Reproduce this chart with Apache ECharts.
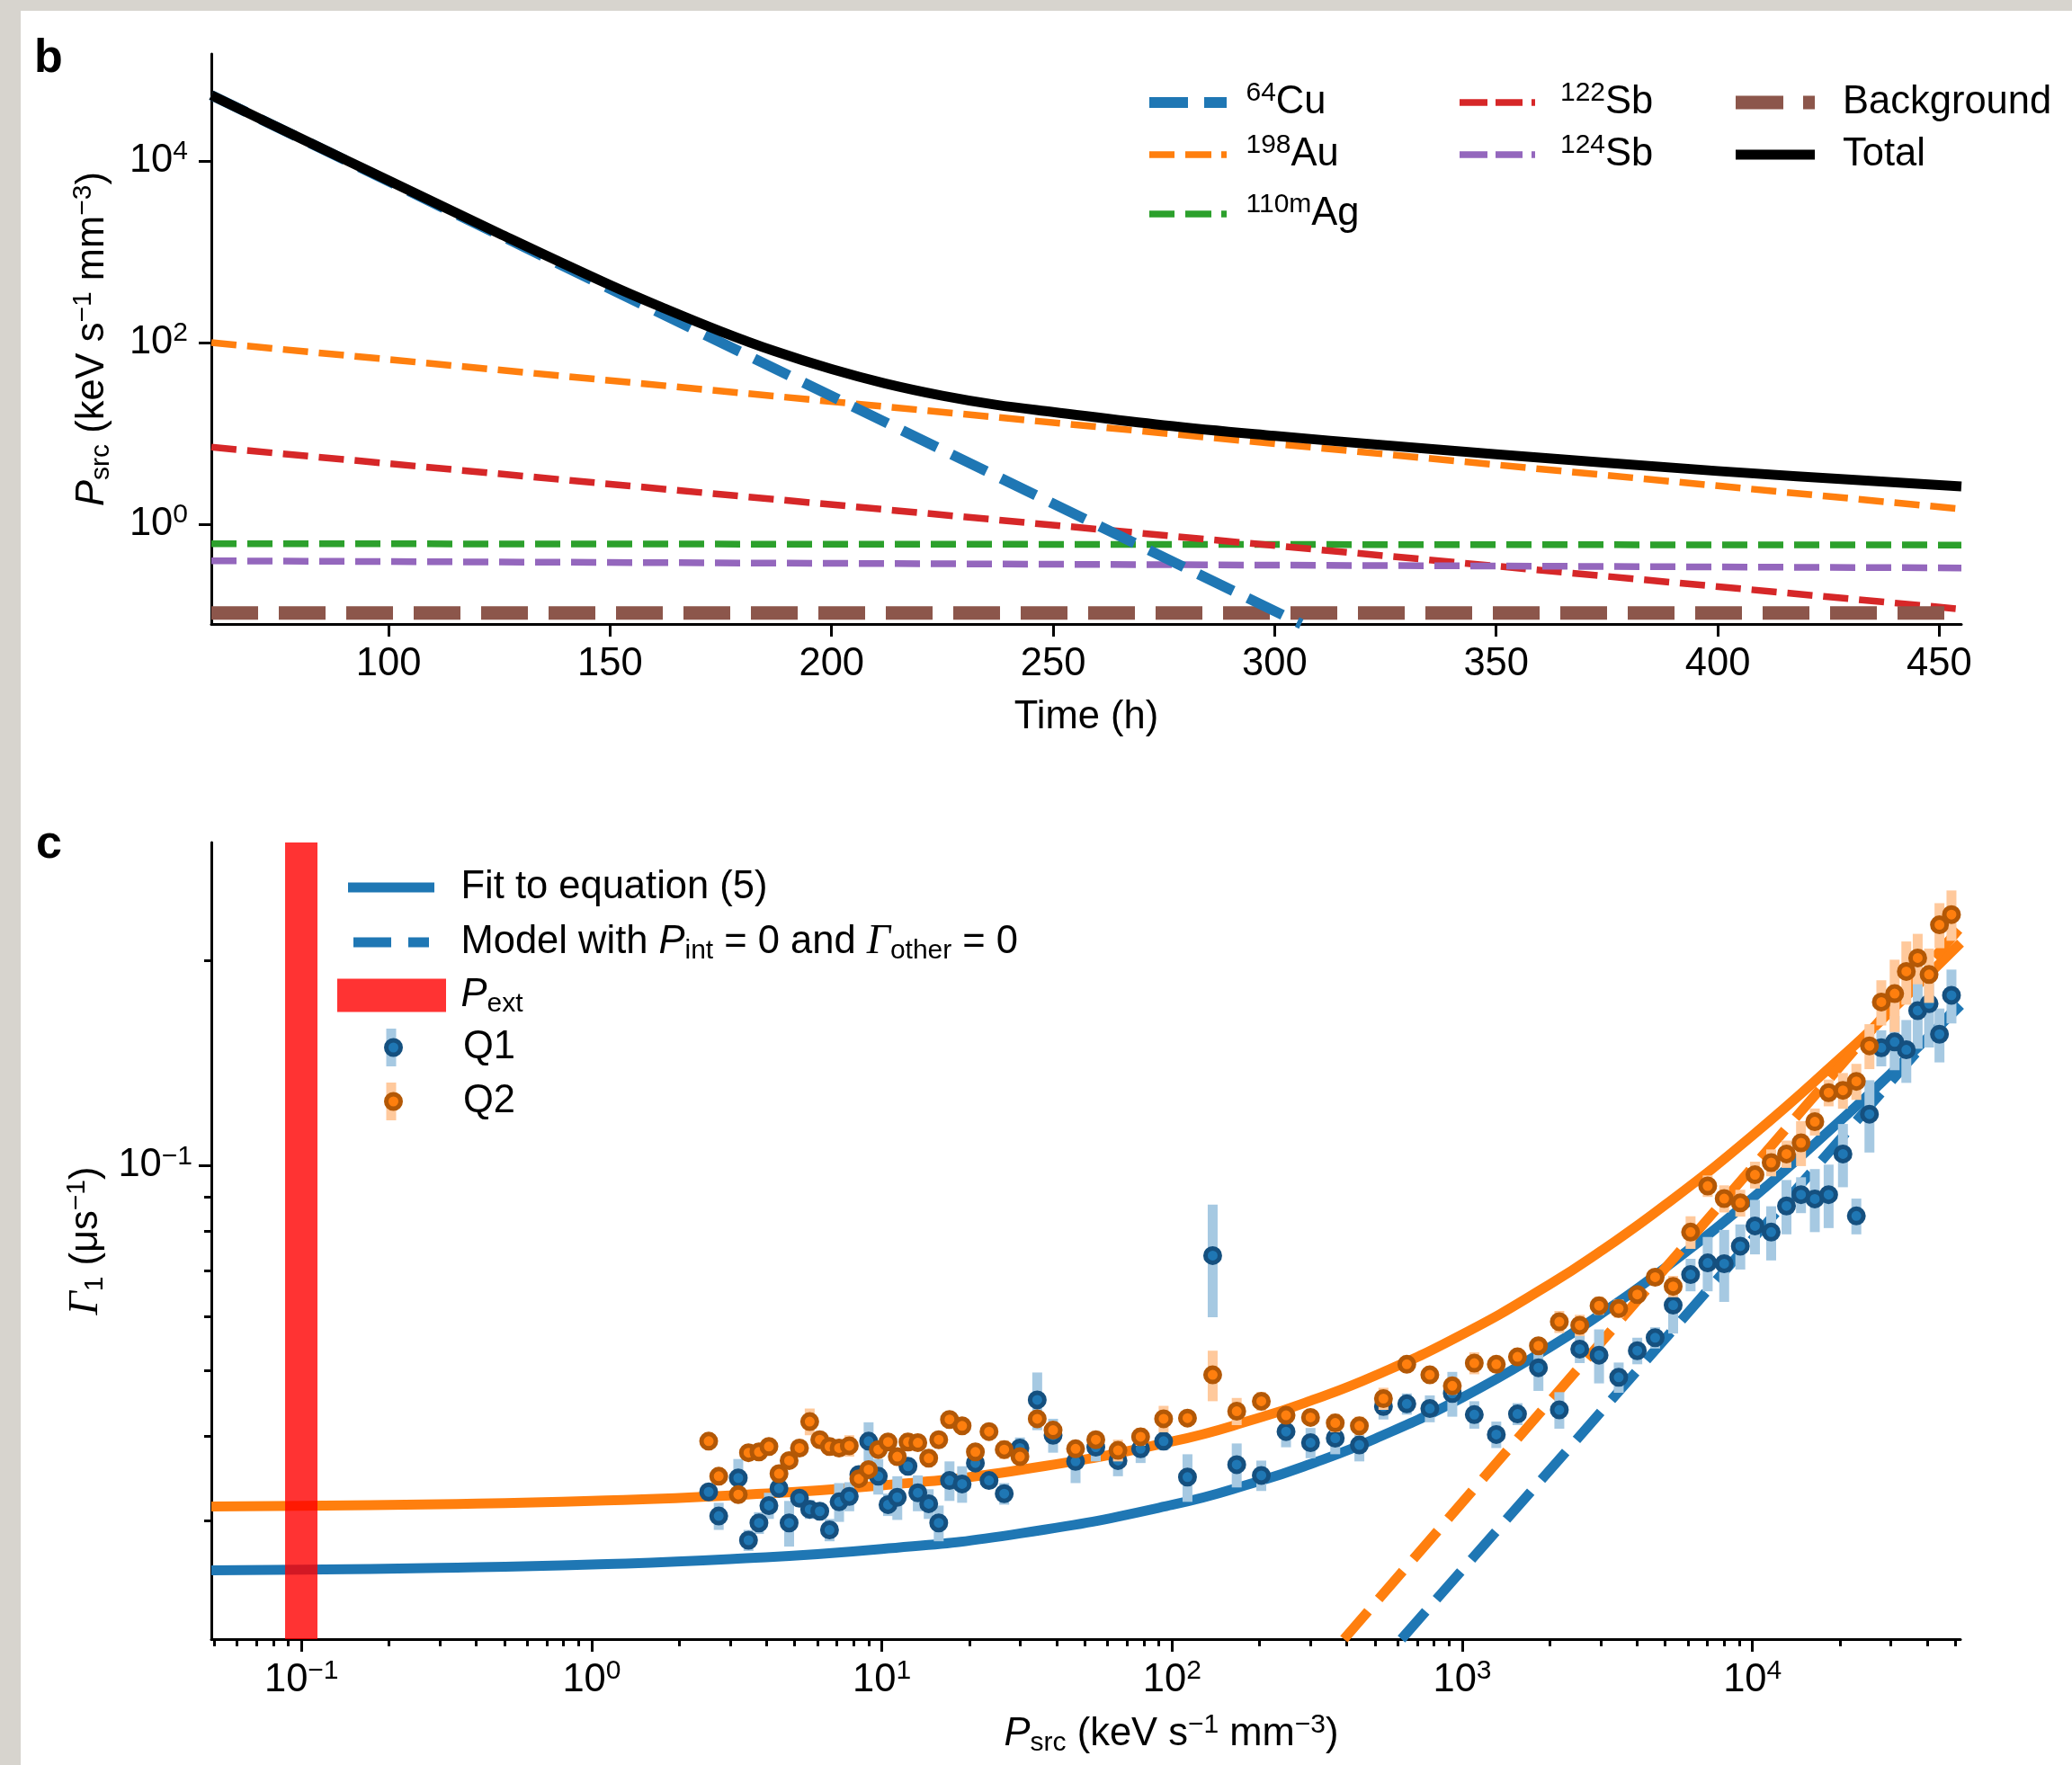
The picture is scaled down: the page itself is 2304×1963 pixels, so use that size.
<!DOCTYPE html>
<html>
<head>
<meta charset="utf-8">
<title>Source power density and relaxation rate</title>
<script src="https://cdn.jsdelivr.net/npm/echarts@6.0.0/dist/echarts.min.js"></script>
<style>
  html, body { margin: 0; padding: 0; width: 2304px; height: 1963px; overflow: hidden; background: #d7d4ce; }
  #chart { position: absolute; left: 23px; top: 12px; width: 2281px; height: 1951px; background: #ffffff; }
</style>
</head>
<body>
<div id="chart"></div>
<script>
// ---------------- panel b: source power density of each isotope vs time ----------------
const decayTimes = [60, 455];           // h, start and end of the straight (exponential) decays
const au198   = [100, 1.47];            // keV s^-1 mm^-3
const ag110m  = [0.61, 0.59];
const sb122   = [7.05, 0.116];
const sb124   = [0.395, 0.33];
const background = [0.105, 0.105];
const cu64Times = [60, 306];
const cu64      = [53000, 0.0796];
const totalTimes = [60, 80, 100, 125, 150, 162, 175, 187, 200, 212, 225, 237, 250, 275, 300, 325, 350, 400, 455];
const total      = [53000, 17900, 6100, 1590, 430, 241, 133, 81, 51, 35.6, 26, 20.7, 17.2, 12.3, 9.4, 7.4, 5.9, 3.85, 2.6];
const timeTicks  = [100, 150, 200, 250, 300, 350, 400, 450];
const powerExponents = [0, 2, 4];

// ---------------- panel c: relaxation rate of Q1 and Q2 vs source power density ----------------
const pSrc = [2.53, 2.74, 3.20, 3.47, 3.77, 4.08, 4.42, 4.79, 5.20, 5.64, 6.11, 6.60, 7.12, 7.72, 8.33,
  9.00, 9.72, 10.5, 11.3, 12.3, 13.3, 14.5, 15.7, 17.1, 18.9, 21.0, 23.4, 26.4, 29.9, 34.3,
  38.9, 46.5, 54.6, 65.1, 77.9, 93.5, 113, 138, 167, 203, 247, 300, 365, 442, 535,
  644, 773, 924, 1100, 1310, 1550, 1830, 2160, 2540, 2960, 3460, 4010, 4620, 5330, 6120, 7010, 7990,
  9080, 10200, 11600, 13100, 14700, 16400, 18300, 20500, 22800, 25300, 27800, 30900, 33900, 37100,
  40600, 44100, 48500];
const gammaQ1 = [0.0331, 0.0305, 0.0347, 0.0281, 0.0298, 0.0316, 0.0335, 0.0298, 0.0324, 0.0312, 0.0310,
  0.0291, 0.0320, 0.0326, 0.0351, 0.0393, 0.0349, 0.0317, 0.0325, 0.0361, 0.0330, 0.0318, 0.0298, 0.0344,
  0.0340, 0.0365, 0.0344, 0.0329, 0.0384, 0.0452,
  0.0401, 0.0367, 0.0385, 0.0368, 0.0383, 0.0393, 0.0348, 0.0737, 0.0363, 0.0350, 0.0406, 0.0391, 0.0397,
  0.0388, 0.0442,
  0.0446, 0.0439, 0.0462, 0.0430, 0.0402, 0.0431, 0.0504, 0.0437, 0.0537, 0.0526, 0.0488, 0.0534, 0.0558,
  0.0623, 0.0691, 0.0719, 0.0717, 0.0761, 0.0815, 0.0798, 0.0872, 0.0906, 0.0893, 0.0906, 0.104, 0.0843,
  0.119, 0.149, 0.152, 0.148, 0.169, 0.173, 0.156, 0.178];
const errQ1 = [0.0008, 0.0014, 0.0023, 0.0010, 0.0011, 0.0014, 0.0008, 0.0023, 0.0008, 0.0010, 0.0008,
  0.0011, 0.0021, 0.0016, 0.0009, 0.0026, 0.0021, 0.0012, 0.0024, 0.0009, 0.0020, 0.0016, 0.0018, 0.0023,
  0.0021, 0.0009, 0.0008, 0.0012, 0.0014, 0.0044,
  0.0023, 0.0026, 0.0018, 0.0019, 0.0018, 0.0012, 0.0028, 0.0139, 0.0027, 0.0018, 0.0021, 0.0020, 0.0021,
  0.0021, 0.0019,
  0.0016, 0.0020, 0.0035, 0.0020, 0.0018, 0.0016, 0.0038, 0.0027, 0.0025, 0.0048, 0.0025, 0.0024, 0.0020,
  0.0057, 0.0038, 0.0066, 0.0087, 0.0058, 0.0075, 0.0073, 0.0080, 0.0055, 0.0095, 0.0097, 0.0111, 0.0051,
  0.0145, 0.0091, 0.0139, 0.0157, 0.0205, 0.0238, 0.0142, 0.0162];
const gammaQ2 = [0.0393, 0.0349, 0.0328, 0.0378, 0.0379, 0.0386, 0.0352, 0.0368, 0.0384, 0.0420, 0.0395,
  0.0386, 0.0384, 0.0387, 0.0346, 0.0357, 0.0382, 0.0392, 0.0373, 0.0392, 0.0391, 0.0371, 0.0395, 0.0423,
  0.0414, 0.0379, 0.0406, 0.0382, 0.0373, 0.0424,
  0.0408, 0.0383, 0.0395, 0.0381, 0.0399, 0.0424, 0.0425, 0.0492, 0.0435, 0.0450, 0.0429, 0.0426, 0.0418,
  0.0414, 0.0454,
  0.0510, 0.0492, 0.0474, 0.0512, 0.0510, 0.0523, 0.0543, 0.0589, 0.0582, 0.0622, 0.0616, 0.0646, 0.0685,
  0.0664, 0.0798, 0.0933, 0.0894, 0.0881, 0.0969, 0.101, 0.104, 0.108, 0.116, 0.128, 0.129, 0.133,
  0.150, 0.174, 0.179, 0.193, 0.202, 0.191, 0.226, 0.234];
const errQ2 = [0.0008, 0.0009, 0.0008, 0.0007, 0.0007, 0.0007, 0.0006, 0.0007, 0.0007, 0.0019, 0.0007,
  0.0007, 0.0007, 0.0014, 0.0006, 0.0007, 0.0007, 0.0007, 0.0007, 0.0012, 0.0007, 0.0007, 0.0007, 0.0008,
  0.0008, 0.0007, 0.0007, 0.0012, 0.0007, 0.0008,
  0.0007, 0.0007, 0.0007, 0.0014, 0.0012, 0.0019, 0.0008, 0.0042, 0.0020, 0.0014, 0.0008, 0.0008, 0.0013,
  0.0013, 0.0017,
  0.0009, 0.0009, 0.0014, 0.0019, 0.0009, 0.0010, 0.0010, 0.0022, 0.0021, 0.0019, 0.0019, 0.0016, 0.0017,
  0.0024, 0.0044, 0.0034, 0.0041, 0.0040, 0.0044, 0.0046, 0.0048, 0.0082, 0.0053, 0.0058, 0.0078, 0.0081,
  0.0114, 0.0133, 0.0218, 0.0206, 0.0172, 0.0175, 0.0172, 0.0199];
const fitP  = [0.0489, 0.1, 0.3, 1, 3, 10, 30, 100, 200, 300, 500, 1000, 2000, 3000, 5000, 10000, 20000, 30000, 52100];
const fitQ1 = [0.02538, 0.02544, 0.02559, 0.02588, 0.02635, 0.02727, 0.02876, 0.03167, 0.03433, 0.03638,
  0.03962, 0.04557, 0.05400, 0.06046, 0.07071, 0.08954, 0.1162, 0.1366, 0.1720];
const fitQ2 = [0.0315, 0.03157, 0.03175, 0.03211, 0.0327, 0.03383, 0.03567, 0.03926, 0.04255, 0.04507,
  0.04907, 0.05643, 0.06683, 0.07481, 0.08746, 0.1107, 0.1436, 0.1688, 0.2125];
const modelPQ1 = [617, 52100];
const modelQ1  = [0.0201, 0.1738];
const modelPQ2 = [391, 52100];
const modelQ2  = [0.0201, 0.2241];
const pExtBand = [0.0878, 0.1135];
const psrcExponents = [-1, 0, 1, 2, 3, 4];
const gammaExponents = [-1];

// ---------------- styling helpers ----------------
const FONT = '"Liberation Sans", Arial, Helvetica, sans-serif';
const SERIF = '"Liberation Serif", "DejaVu Serif", serif';
const FS = 43.5;
const RICH = {
  t:   { fontFamily: FONT, fontSize: FS, lineHeight: 50, color: '#000' },
  i:   { fontFamily: FONT, fontSize: FS, lineHeight: 50, fontStyle: 'italic', color: '#000' },
  g:   { fontFamily: SERIF, fontSize: 46, lineHeight: 50, fontStyle: 'italic', color: '#000' },
  sup: { fontFamily: FONT, fontSize: 30, lineHeight: 30, verticalAlign: 'top', color: '#000' },
  sub: { fontFamily: FONT, fontSize: 30, lineHeight: 18, verticalAlign: 'bottom', color: '#000' }
};
const expLabel = v => '{t|10}{sup|' + (v < 0 ? '\u2212' + (-v) : v) + '}';
const log = Math.log10;

// log-scaled panel c domain
const xMinC = log(0.0489), xMaxC = log(52100);
const yMinC = log(0.0201), yMaxC = log(0.2987);
const yMinB = log(0.0796), yMaxB = log(1.51e5);

const minorX = [], minorY = [];
for (let e = -2; e <= 4; e++) {
  for (let k = 2; k <= 9; k++) {
    const v = log(k) + e;
    if (v > xMinC && v < xMaxC) minorX.push(v);
    if (v > yMinC && v < yMaxC) minorY.push(v);
  }
}

const axisLineStyle = { color: '#000', width: 3 };
function baseAxis(extra) {
  return Object.assign({
    type: 'value',
    splitLine: { show: false },
    axisLine: { show: true, onZero: false, lineStyle: axisLineStyle },
    axisTick: { show: true, inside: false, length: 14, lineStyle: axisLineStyle },
    axisLabel: { show: true, rich: RICH },
    nameTextStyle: { rich: RICH }
  }, extra);
}
function minorAxis(extra, values) {
  return Object.assign({
    type: 'value',
    splitLine: { show: false },
    axisLine: { show: false, onZero: false },
    axisLabel: { show: false },
    axisTick: { show: true, inside: false, length: 8, customValues: values, lineStyle: axisLineStyle }
  }, extra);
}

// ---------------- series builders ----------------
function curve(name, xs, ys, color, width, dash, opts, panel) {
  const onC = panel === 'c';
  return Object.assign({
    type: 'line', name: name,
    xAxisIndex: onC ? 1 : 0, yAxisIndex: onC ? 1 : 0,
    symbol: 'none', silent: true, color: color,
    data: xs.map((x, i) => [onC ? log(x) : x, log(ys[i])]),
    lineStyle: { color: color, width: width, type: dash || 'solid', cap: 'butt', join: 'round' }
  }, opts || {});
}
function errorBars(name, gammas, errs, color, z) {
  return {
    type: 'custom', name: name, xAxisIndex: 1, yAxisIndex: 1, z: z, silent: true, color: color,
    data: pSrc.map((p, i) => [log(p), log(gammas[i] - errs[i]), log(gammas[i] + errs[i])]),
    encode: { x: 0, y: [1, 2] },
    renderItem: (params, api) => {
      const hi = api.coord([api.value(0), api.value(2)]);
      const lo = api.coord([api.value(0), api.value(1)]);
      const w = 11;
      return { type: 'rect', shape: { x: hi[0] - w / 2, y: hi[1], width: w, height: lo[1] - hi[1] },
               style: { fill: color } };
    }
  };
}
function markers(name, gammas, fill, edge, z) {
  return {
    type: 'scatter', name: name, xAxisIndex: 1, yAxisIndex: 1, z: z, silent: true,
    symbol: 'circle', symbolSize: 16,
    itemStyle: { color: fill, borderColor: edge, borderWidth: 5, opacity: 1 },
    data: pSrc.map((p, i) => [log(p), log(gammas[i])])
  };
}

// ---------------- legend entries ----------------
function legendEntry(name, left, cy, icon, w, h, itemStyle, textLeft, label) {
  const hasText = label !== '';
  const boxH = hasText ? Math.max(50, h) : h;
  return {
    show: true, selectedMode: false, orient: 'vertical', padding: 0,
    left: left, top: cy - boxH / 2,
    itemWidth: w, itemHeight: h, symbolKeepAspect: false,
    data: [{ name: name, icon: icon, itemStyle: Object.assign({ borderWidth: 0 }, itemStyle) }],
    formatter: () => label,
    textStyle: {
      fontFamily: FONT, fontSize: hasText ? FS : 1, lineHeight: hasText ? 50 : 1, color: '#000',
      padding: [0, 0, 0, hasText ? textLeft - (left + w + 5) : 0], rich: RICH
    }
  };
}
const dashIcon = (segs, h) => 'path://' + segs.map(s => 'M' + s[0] + ',0H' + s[1] + 'V' + h + 'H' + s[0] + 'Z').join(' ');

const legends = [
  legendEntry('64Cu', 1255, 102, dashIcon([[0, 43], [61, 86]], 12), 86, 12, { color: '#1f77b4' }, 1362.5, '{sup|64}{t|Cu}'),
  legendEntry('198Au', 1255, 160, dashIcon([[0, 28], [40, 69], [80, 86]], 7.5), 86, 7.5, { color: '#ff7f0e' }, 1362.5, '{sup|198}{t|Au}'),
  legendEntry('110mAg', 1255, 226, dashIcon([[0, 28], [40, 69], [80, 86]], 7.5), 86, 7.5, { color: '#2ca02c' }, 1362.5, '{sup|110m}{t|Ag}'),
  legendEntry('122Sb', 1600, 102, dashIcon([[0, 31], [40, 70], [80, 84]], 7.5), 84, 7.5, { color: '#d62728' }, 1712, '{sup|122}{t|Sb}'),
  legendEntry('124Sb', 1600, 160, dashIcon([[0, 31], [40, 70], [80, 84]], 7.5), 84, 7.5, { color: '#9467bd' }, 1712, '{sup|124}{t|Sb}'),
  legendEntry('Background', 1907, 102, dashIcon([[0, 53], [75, 88]], 15), 88, 15, { color: '#8c564b' }, 2026, '{t|Background}'),
  legendEntry('Total', 1907, 160, 'rect', 88, 11, { color: '#000000' }, 2026, '{t|Total}'),

  legendEntry('Fit to equation (5)', 364, 975, 'rect', 96, 11, { color: '#1f77b4' }, 489.5, '{t|Fit to equation (5)}'),
  legendEntry('Model with P_int = 0 and \u0393_other = 0', 370, 1036, dashIcon([[0, 42], [61, 84]], 11), 84, 11,
    { color: '#1f77b4' }, 489.5, '{t|Model with }{i|P}{sub|int}{t| = 0 and }{g|\u0393}{sub|other}{t| = 0}'),
  legendEntry('P_ext', 352, 1095, 'rect', 121, 37, { color: 'rgba(255,0,0,0.8)' }, 489.5, '{i|P}{sub|ext}'),
  legendEntry('Q1 error', 406.5, 1153, 'rect', 11, 42, { color: '#a6c9e2' }, 0, ''),
  legendEntry('Q2 error', 406.5, 1213, 'rect', 11, 42, { color: '#ffc99c' }, 0, ''),
  legendEntry('Q1', 404, 1153, 'circle', 16, 16, { color: '#1f77b4', borderColor: '#15507f', borderWidth: 5 }, 489.5, '{t|Q1}'),
  legendEntry('Q2', 404, 1213, 'circle', 16, 16, { color: '#ff7f0e', borderColor: '#b35806', borderWidth: 5 }, 489.5, '{t|Q2}')
];

// ---------------- chart ----------------
const chart = echarts.init(document.getElementById('chart'), null, { renderer: 'canvas' });
const titleStyle = { fontFamily: FONT, fontSize: 52, fontWeight: 'bold', color: '#000', lineHeight: 50 };

chart.setOption({
  animation: false,
  backgroundColor: '#ffffff',
  textStyle: { fontFamily: FONT, color: '#000' },
  title: [
    { text: 'b', left: 15, top: 29, padding: 0, textStyle: titleStyle },
    { text: 'c', left: 17, top: 903, padding: 0, textStyle: titleStyle }
  ],
  legend: legends,
  grid: [
    { left: 212, top: 48, width: 1946, height: 634, containLabel: false, outerBoundsMode: 'none' },
    { left: 212, top: 925, width: 1945, height: 886, containLabel: false, outerBoundsMode: 'none' }
  ],
  xAxis: [
    baseAxis({
      gridIndex: 0, position: 'bottom', min: 60, max: 455,
      axisTick: { show: true, length: 14, customValues: timeTicks, lineStyle: axisLineStyle },
      axisLabel: { show: true, customValues: timeTicks, margin: 20, rich: RICH, formatter: v => '{t|' + v + '}' },
      name: '{t|Time (h)}', nameLocation: 'middle', nameGap: 79, nameTextStyle: { rich: RICH }
    }),
    baseAxis({
      gridIndex: 1, position: 'bottom', min: xMinC, max: xMaxC,
      axisTick: { show: true, length: 14, customValues: psrcExponents, lineStyle: axisLineStyle },
      axisLabel: { show: true, customValues: psrcExponents, margin: 21, rich: RICH, formatter: expLabel },
      name: '{i|P}{sub|src}{t| (keV s}{sup|\u22121}{t| mm}{sup|\u22123}{t|)}',
      nameLocation: 'middle', nameGap: 81, nameTextStyle: { rich: RICH, padding: [0, 0, 0, 190] }
    }),
    minorAxis({ gridIndex: 1, position: 'bottom', min: xMinC, max: xMaxC }, minorX)
  ],
  yAxis: [
    baseAxis({
      gridIndex: 0, position: 'left', min: yMinB, max: yMaxB,
      axisTick: { show: true, length: 14, customValues: powerExponents, lineStyle: axisLineStyle },
      axisLabel: { show: true, customValues: powerExponents, margin: 26, rich: RICH, formatter: expLabel },
      name: '{i|P}{sub|src}{t| (keV s}{sup|\u22121}{t| mm}{sup|\u22123}{t|)}',
      nameLocation: 'middle', nameGap: 107, nameRotate: 90, nameTextStyle: { rich: RICH }
    }),
    baseAxis({
      gridIndex: 1, position: 'left', min: yMinC, max: yMaxC,
      axisTick: { show: true, length: 14, customValues: gammaExponents, lineStyle: axisLineStyle },
      axisLabel: { show: true, customValues: gammaExponents, margin: 21, rich: RICH, formatter: expLabel },
      name: '{g|\u0393}{sub|1}{t| (\u03bcs}{sup|\u22121}{t|)}',
      nameLocation: 'middle', nameGap: 104, nameRotate: 90, nameTextStyle: { rich: RICH }
    }),
    minorAxis({ gridIndex: 1, position: 'left', min: yMinC, max: yMaxC }, minorY)
  ],
  series: [
    // panel b
    curve('198Au', decayTimes, au198, '#ff7f0e', 7.5, [28, 12], { z: 2 }, 'b'),
    curve('110mAg', decayTimes, ag110m, '#2ca02c', 7.5, [28, 12], { z: 2 }, 'b'),
    curve('122Sb', decayTimes, sb122, '#d62728', 7.5, [28, 12], { z: 2 }, 'b'),
    curve('124Sb', decayTimes, sb124, '#9467bd', 7.5, [28, 12], { z: 2 }, 'b'),
    curve('Background', decayTimes, background, '#8c564b', 15, [52, 23], { z: 2 }, 'b'),
    curve('64Cu', cu64Times, cu64, '#1f77b4', 11.5, [43, 18], { z: 3 }, 'b'),
    curve('Total', totalTimes, total, '#000000', 11, null, { z: 4, smooth: 0.4 }, 'b'),

    // panel c
    curve('Fit to equation (5)', fitP, fitQ1, '#1f77b4', 11, null, { z: 2, smooth: 0.5 }, 'c'),
    curve('Q2 fit', fitP, fitQ2, '#ff7f0e', 11, null, { z: 2, smooth: 0.5 }, 'c'),
    curve('Model with P_int = 0 and \u0393_other = 0', modelPQ1, modelQ1, '#1f77b4', 11, [41, 18], { z: 2 }, 'c'),
    curve('Q2 model', modelPQ2, modelQ2, '#ff7f0e', 11, [41, 18], { z: 2 }, 'c'),
    {
      type: 'custom', name: 'P_ext', xAxisIndex: 1, yAxisIndex: 1, z: 3, silent: true,
      color: 'rgba(255,0,0,0.8)',
      data: [[log(pExtBand[0]), log(pExtBand[1])]],
      encode: { x: [0, 1] },
      renderItem: (params, api) => {
        const cs = params.coordSys;
        const a = api.coord([api.value(0), yMinC])[0];
        const b = api.coord([api.value(1), yMinC])[0];
        return { type: 'rect', shape: { x: a, y: cs.y, width: b - a, height: cs.height },
                 style: { fill: 'rgba(255,0,0,0.8)' } };
      }
    },
    errorBars('Q1 error', gammaQ1, errQ1, '#a6c9e2', 4),
    markers('Q1', gammaQ1, '#1f77b4', '#15507f', 5),
    errorBars('Q2 error', gammaQ2, errQ2, '#ffc99c', 6),
    markers('Q2', gammaQ2, '#ff7f0e', '#b35806', 7)
  ]
});
</script>
</body>
</html>
